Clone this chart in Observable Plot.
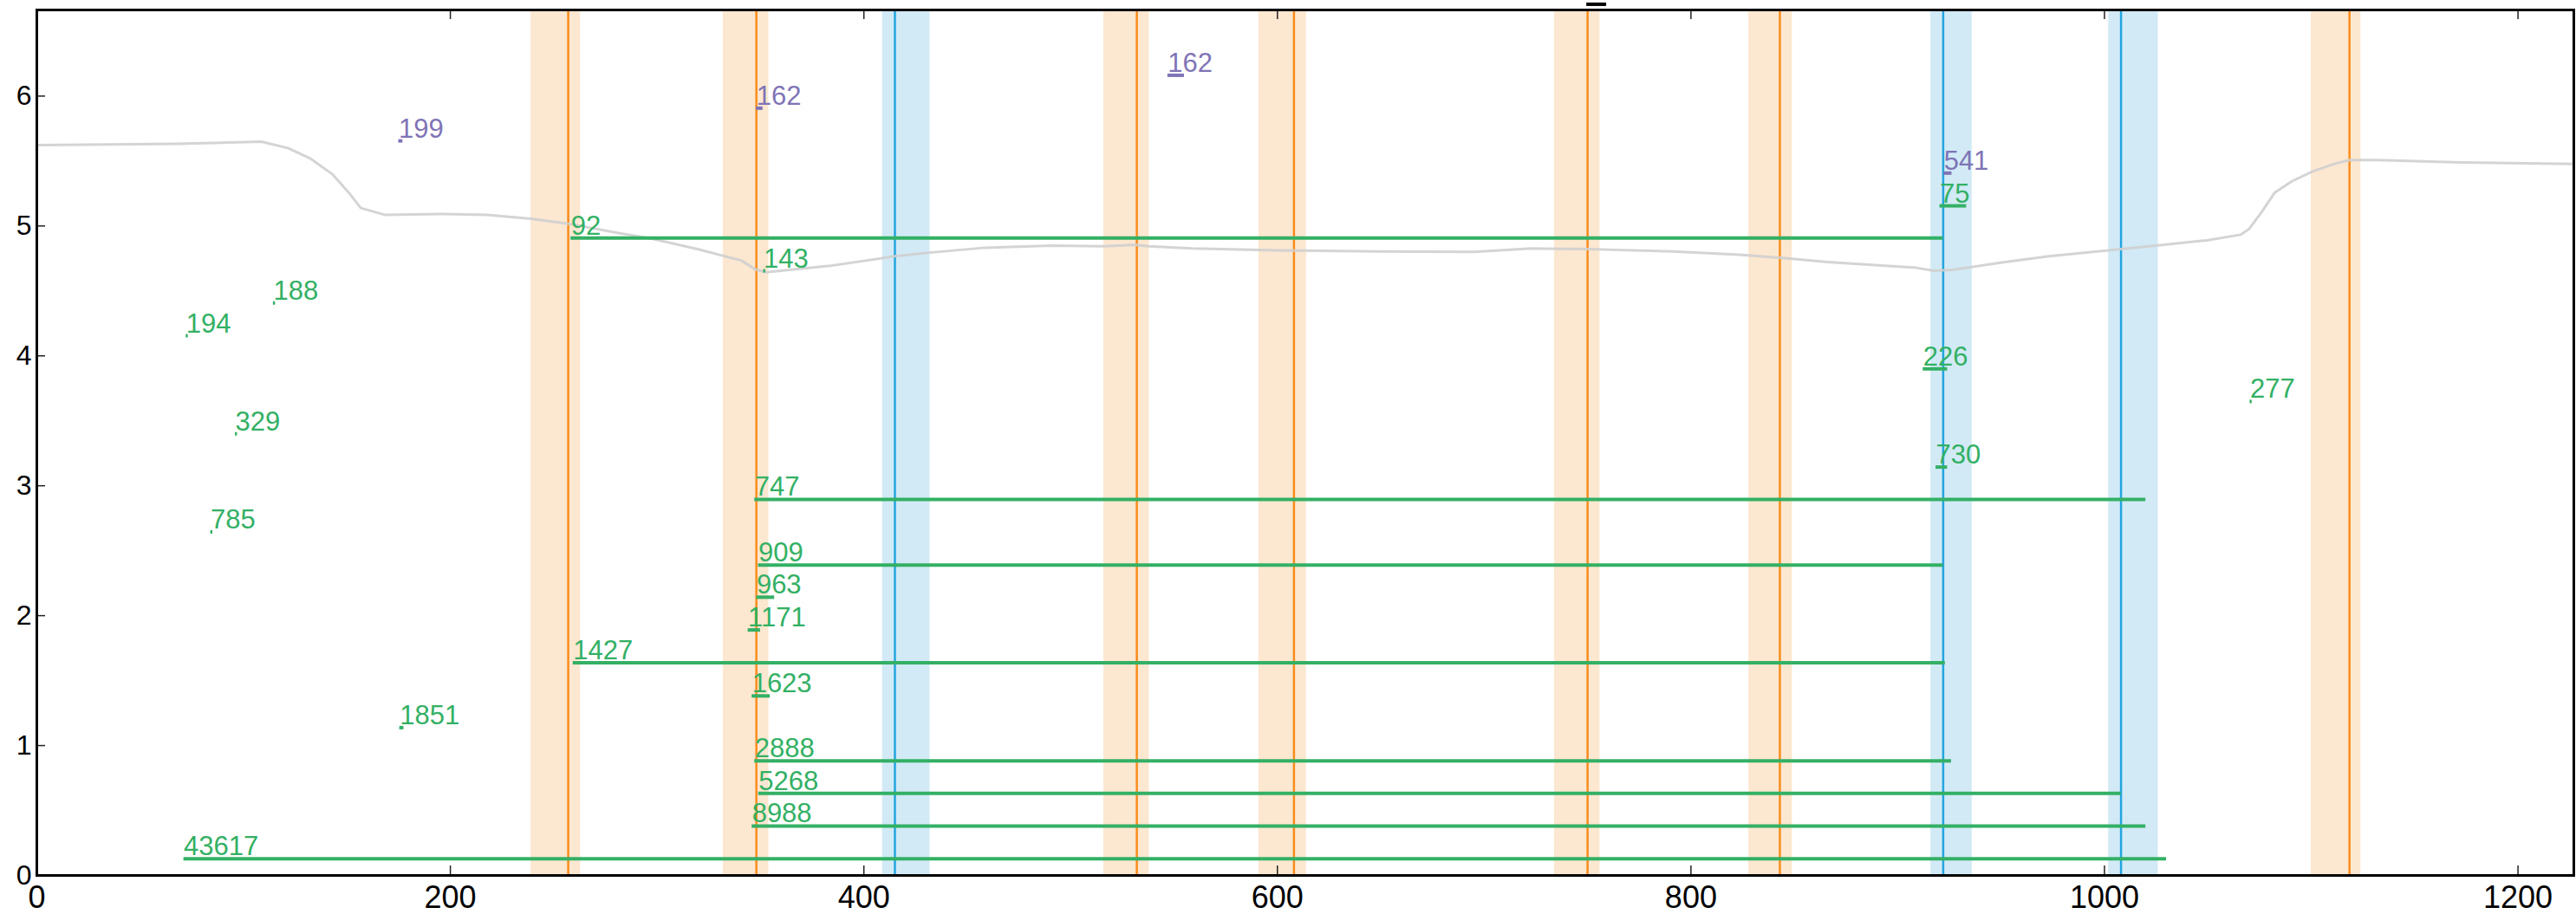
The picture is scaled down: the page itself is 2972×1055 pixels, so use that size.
<!DOCTYPE html>
<html>
<head>
<meta charset="utf-8">
<script src="https://cdn.jsdelivr.net/npm/d3@7"></script>
<script src="https://cdn.jsdelivr.net/npm/@observablehq/plot@0.6"></script>
<style>
  html, body { margin: 0; padding: 0; background: #ffffff; }
  #chart svg { display: block; }
</style>
</head>
<body>
<div id="chart"></div>
<script>
// ---- data ----
const xTicks = [0, 200, 400, 600, 800, 1000, 1200];
const yTicks = [0, 1, 2, 3, 4, 5, 6];

// orange markers: line position and shaded band
const orangeX      = [257, 348, 532, 608, 750, 843, 1118.5];
const orangeStart  = [239, 332, 516, 591, 734, 828, 1100];
const orangeEnd    = [263, 354, 538, 614, 756, 849, 1124];

// blue markers
const blueX     = [415, 922, 1008];
const blueStart = [409, 916, 1002];
const blueEnd   = [432, 936, 1026];

// gray profile curve
const curveX = [0, 68, 108.6, 121.4, 132, 142.8, 151.4, 156.7, 168.5, 196.2, 217.6, 239, 256.9, 281.9, 298, 319.5, 340.9, 347.3, 352.6, 383.6, 415, 430.6, 458.6, 490.6, 516.3, 531.2, 537.7, 559, 600, 650, 695.2, 722.9, 750.4, 759.3, 791.4, 823.5, 843.2, 866.3, 887.6, 909, 917.6, 926.2, 951.8, 973.2, 1008.1, 1028.7, 1049.3, 1065.8, 1070, 1076.2, 1082.3, 1090.6, 1100.9, 1111.3, 1118.5, 1131.9, 1173.2, 1227];
const curveY = [5.622, 5.633, 5.649, 5.600, 5.522, 5.400, 5.247, 5.138, 5.085, 5.093, 5.085, 5.055, 5.018, 4.944, 4.900, 4.822, 4.733, 4.667, 4.644, 4.693, 4.767, 4.793, 4.833, 4.849, 4.844, 4.856, 4.844, 4.827, 4.812, 4.803, 4.800, 4.827, 4.822, 4.818, 4.804, 4.778, 4.756, 4.722, 4.700, 4.678, 4.656, 4.662, 4.722, 4.767, 4.822, 4.855, 4.889, 4.933, 4.978, 5.111, 5.256, 5.344, 5.422, 5.478, 5.507, 5.507, 5.489, 5.478];

// green labelled segments
const greenLabels = ["194", "188", "329", "785", "1851", "143", "277", "75", "226", "730", "963", "1171", "1623",
                     "92", "747", "909", "1427", "2888", "5268", "8988", "43617"];
const greenStart  = [72.2, 114.4, 96, 84.1, 175.5, 351.5, 1070.4, 920.4, 912.3, 918.5, 348.1, 344, 345.9,
                     258.3, 347.2, 349, 259.4, 347.2, 349.1, 345.9, 71.1];
const greenEnd    = [73.2, 115.4, 97, 85.1, 177.5, 352.5, 1071.4, 933.3, 924.1, 924.1, 356.8, 350, 354.7,
                     922, 1020, 922, 923, 926, 1008, 1020, 1030];
const greenY      = [4.155, 4.407, 3.4, 2.645, 1.138, 4.655, 3.649, 5.155, 3.9, 3.144, 2.142, 1.89, 1.382,
                     4.907, 2.895, 2.39, 1.637, 0.882, 0.632, 0.381, 0.128];

// purple labelled segments
const purpleLabels = ["199", "162", "162", "541"];
const purpleStart  = [175, 348, 547, 922.3];
const purpleEnd    = [177, 351.2, 555, 926.2];
const purpleY      = [5.655, 5.907, 6.16, 5.407];

// black segment above the frame
const blackStart = [749.6];
const blackEnd   = [759.2];
const blackY     = [6.707];

// ---- build tables ----
const orange = orangeX.map((x, i) => ({x, x1: orangeStart[i], x2: orangeEnd[i]}));
const blue = blueX.map((x, i) => ({x, x1: blueStart[i], x2: blueEnd[i]}));
const curve = curveX.map((x, i) => ({x, y: curveY[i]}));
const green = greenLabels.map((label, i) => ({label, x1: greenStart[i], x2: greenEnd[i], y: greenY[i]}));
const purple = purpleLabels.map((label, i) => ({label, x1: purpleStart[i], x2: purpleEnd[i], y: purpleY[i]}));
const black = blackStart.map((x1, i) => ({x1, x2: blackEnd[i], y: blackY[i]}));

const C = {
  orange: "#fa8c1c", orangeBand: "#fce7d0",
  blue: "#22a5df", blueBand: "#d2eaf6",
  green: "#33b064", purple: "#7f74b6", gray: "#cfcfcf"
};
const labelSize = 31;

const W = 2972, H = 1055, mL = 42, mR = 3, mT = 11, mB = 45;
const frameW = W - mL - mR, frameH = H - mT - mB;
const tickLen = 11;

const chart = Plot.plot({
  width: W,
  height: H,
  marginLeft: mL,
  marginRight: mR,
  marginTop: mT,
  marginBottom: mB,
  style: {fontFamily: "'Liberation Sans', Arial, Helvetica, sans-serif", background: "#ffffff", color: "#000"},
  x: {domain: [0, 1227]},
  y: {domain: [0, 6.663]},
  marks: [
    Plot.rect(orange, {x1: "x1", x2: "x2", fill: C.orangeBand}),
    Plot.rect(blue, {x1: "x1", x2: "x2", fill: C.blueBand}),
    Plot.ruleX(orange, {x: "x", stroke: C.orange, strokeWidth: 2.5}),
    Plot.ruleX(blue, {x: "x", stroke: C.blue, strokeWidth: 2.5}),
    Plot.line(curve, {x: "x", y: "y", stroke: C.gray, strokeWidth: 3, strokeOpacity: 0.9}),
    Plot.ruleY(green, {y: "y", x1: "x1", x2: "x2", stroke: C.green, strokeWidth: 4}),
    Plot.ruleY(purple, {y: "y", x1: "x1", x2: "x2", stroke: C.purple, strokeWidth: 4}),
    Plot.ruleY(black, {y: "y", x1: "x1", x2: "x2", stroke: "#000", strokeWidth: 4}),
    Plot.text(green, {x: "x1", y: "y", text: "label", textAnchor: "start", lineAnchor: "bottom", dy: -4, fontSize: labelSize, fill: C.green}),
    Plot.text(purple, {x: "x1", y: "y", text: "label", textAnchor: "start", lineAnchor: "bottom", dy: -4, fontSize: labelSize, fill: C.purple}),
    // inward ticks (bottom, top, left)
    Plot.ruleX(xTicks, {x: d => d, insetTop: frameH - tickLen, stroke: "#222", strokeWidth: 1.5}),
    Plot.ruleX(xTicks, {x: d => d, insetBottom: frameH - tickLen, stroke: "#222", strokeWidth: 1.5}),
    Plot.ruleY(yTicks, {y: d => d, insetRight: frameW - 10, stroke: "#222", strokeWidth: 1.5}),
    Plot.axisX({ticks: xTicks, tickSize: 0, tickPadding: 12, fontSize: 36, label: null, tickFormat: d => String(d)}),
    Plot.axisY({ticks: yTicks, tickSize: 0, tickPadding: 6, fontSize: 32, label: null, tickFormat: d => String(d)}),
    Plot.frame({stroke: "#000", strokeWidth: 3})
  ]
});
document.getElementById("chart").appendChild(chart);
</script>
</body>
</html>
